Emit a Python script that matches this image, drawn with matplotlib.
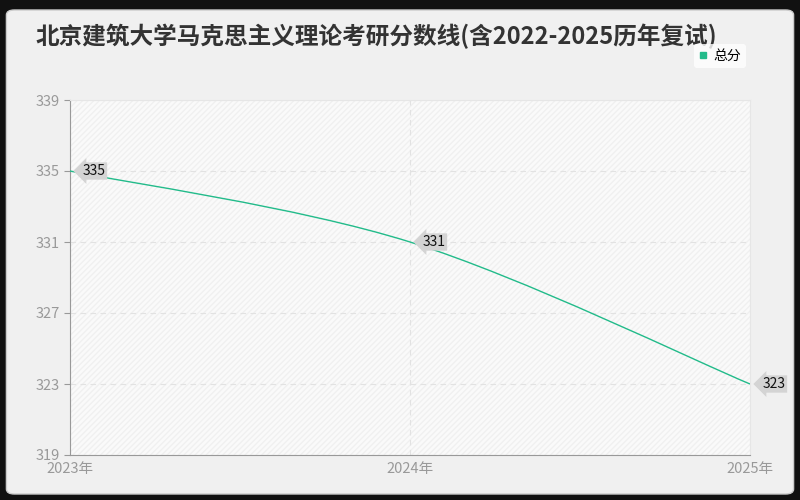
import numpy as np
import matplotlib.pyplot as plt
from matplotlib.path import Path
from matplotlib.patches import PathPatch, FancyBboxPatch
from matplotlib.lines import Line2D

plt.rcParams['font.family'] = ['Noto Sans CJK SC', 'DejaVu Sans']

years = [2023, 2024, 2025]
year_labels = ['2023年', '2024年', '2025年']
scores = [335, 331, 323]
y_ticks = [319, 323, 327, 331, 335, 339]
title = '北京建筑大学马克思主义理论考研分数线(含2022-2025历年复试)'
series_name = '总分'
line_color = '#22bb8a'

fig = plt.figure(figsize=(8, 5), dpi=100)
fig.patch.set_facecolor('#111111')
bg = FancyBboxPatch((0.008, 0.012), 0.984, 0.968, boxstyle='round,pad=0,rounding_size=0.01',
                    transform=fig.transFigure, facecolor='#f0f0f0', edgecolor='#cccccc',
                    linewidth=1, zorder=-10)
fig.patches.append(bg)

ax = fig.add_axes([0.0875, 0.09, 0.85, 0.71])
ax.set_zorder(2)
ax.set_facecolor('#fafafa')
ax.add_patch(plt.Rectangle((0, 0), 1, 1, transform=ax.transAxes, facecolor='none',
                           edgecolor='#f0f0f0', hatch='//////', linewidth=0, zorder=0))

# smooth curve (catmull-rom -> bezier) through the data points
xs = np.array(years, dtype=float)
ys = np.array(scores, dtype=float)
verts = [(xs[0], ys[0])]
codes = [Path.MOVETO]
n = len(xs)
for i in range(n - 1):
    p0 = (xs[max(i - 1, 0)], ys[max(i - 1, 0)])
    p1 = (xs[i], ys[i])
    p2 = (xs[i + 1], ys[i + 1])
    p3 = (xs[min(i + 2, n - 1)], ys[min(i + 2, n - 1)])
    t = 0.5 / 3
    c1 = (p1[0] + (p2[0] - p0[0]) * t, p1[1] + (p2[1] - p0[1]) * t)
    c2 = (p2[0] - (p3[0] - p1[0]) * t, p2[1] - (p3[1] - p1[1]) * t)
    verts += [c1, c2, p2]
    codes += [Path.CURVE4] * 3
ax.add_patch(PathPatch(Path(verts, codes), facecolor='none', edgecolor=line_color,
                       linewidth=1, zorder=3))

for x, y in zip(years, scores):
    ax.annotate(str(y), (x, y), xytext=(9, 0), textcoords='offset points',
                ha='left', va='center', fontsize=10, color='#111111', zorder=5,
                annotation_clip=False,
                bbox=dict(boxstyle='larrow,pad=0.12', fc='#d4d4d4', ec='none'))

ax.set_xlim(2023, 2025)
ax.set_ylim(319, 339)
ax.set_xticks(years)
ax.set_xticklabels(year_labels)
ax.set_yticks(y_ticks)
ax.grid(True, color='#e2e2e2', linestyle=(0, (5, 4)), linewidth=0.8)
ax.tick_params(axis='both', colors='#999999', labelcolor='#999999', labelsize=10.5, length=4)
ax.tick_params(axis='x', length=0, pad=5)
for s in ['left', 'bottom']:
    ax.spines[s].set_color('#999999')
for s in ['top', 'right']:
    ax.spines[s].set_color('#e6e6e6')

fig.text(0.044, 0.927, title, fontsize=17, fontweight='bold', color='#333333', va='center')

handle = Line2D([], [], marker='s', markersize=4, linestyle='none', color=line_color)
leg = fig.legend([handle], [series_name], loc='center', bbox_to_anchor=(0.9, 0.888),
                 frameon=True, fontsize=10, handlelength=0.6, handletextpad=0.4,
                 borderpad=0.35, fancybox=True)
leg.get_frame().set_facecolor('white')
leg.get_frame().set_edgecolor('none')

fig.savefig('out.png', dpi=100, facecolor=fig.get_facecolor())
